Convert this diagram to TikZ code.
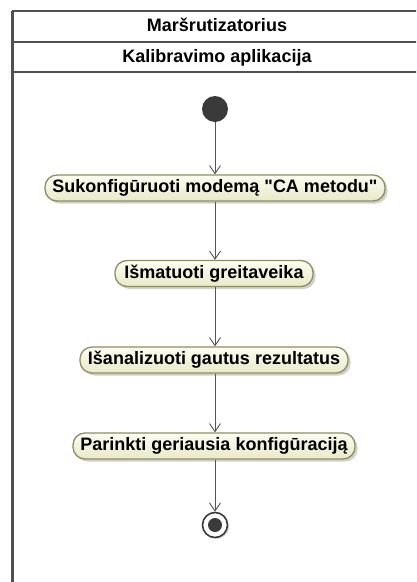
\documentclass[tikz,border=0pt]{standalone}
\usepackage{fontspec}
\setmainfont{Liberation Sans}[Ligatures=TeXOff]
\usetikzlibrary{arrows.meta,shadows}
\definecolor{frameline}{HTML}{505050}
\definecolor{flowline}{HTML}{555555}
\definecolor{actborder}{HTML}{8E8E62}
\definecolor{actlight}{HTML}{FDFDF2}
\definecolor{actdark}{HTML}{E9E9C9}
\definecolor{nodefill}{HTML}{3A3A3A}
\tikzset{
  labelfont/.style={font=\bfseries\fontsize{18}{21}\selectfont},
  lanetitle/.style={labelfont, inner sep=0pt, anchor=base},
  action/.style={labelfont, draw=actborder, line width=1.3pt,
    rounded corners=12pt, top color=actlight, bottom color=actdark,
    minimum height=26pt, inner xsep=0pt, inner ysep=0pt,
    text height=13pt, text depth=4pt,
    drop shadow={shadow xshift=2.5pt, shadow yshift=-2.5pt,
      fill=black!30, opacity=0.6}},
  startnode/.style={circle, fill=nodefill, minimum size=26pt, inner sep=0pt},
  endnode/.style={circle, draw=nodefill, line width=1.6pt, fill=white,
    minimum size=25pt, inner sep=0pt,
    drop shadow={shadow xshift=1.5pt, shadow yshift=-1.5pt,
      fill=black!25, opacity=0.6}},
  enddot/.style={circle, fill=nodefill, minimum size=14pt, inner sep=0pt},
  flow/.style={draw=flowline, line width=0.9pt,
    -{Straight Barb[length=8pt, width=11pt, line width=0.9pt]}},
  partition/.style={draw=frameline, line width=2pt}
}
\begin{document}
\begin{tikzpicture}[x=1pt, y=-1pt]
\useasboundingbox (0,0) rectangle (416,582);
\fill[white] (0,0) rectangle (416,582);
\begin{scope}
\clip (0,0) rectangle (416,582);
% swimlane frame, extending past the right and bottom edges
\coordinate (ftl) at (12,11);
\coordinate (ftr) at (430,11);
\coordinate (fbl) at (12,590);
\coordinate (hl1) at (12,42);
\coordinate (hr1) at (430,42);
\coordinate (hl2) at (12,72);
\coordinate (hr2) at (430,72);
\draw[partition] (ftl) -- (ftr);
\draw[partition] (hl1) -- (hr1);
\draw[partition, line width=2.4pt] (hl2) -- (hr2);
\draw[partition, line width=3pt] (ftl) -- (fbl);
\end{scope}

% lane titles
\node[lanetitle] (lane) at (217,31) {Maršrutizatorius};
\node[lanetitle] (part) at (217,62) {Kalibravimo aplikacija};

% activity flow
\node[startnode] (start) at (215,109) {};
\node[action, minimum width=340pt] (a1) at (215,188) {Sukonfigūruoti modemą "CA metodu"};
\node[action, minimum width=198pt] (a2) at (214,273.5) {Išmatuoti greitaveika};
\node[action, minimum width=268pt] (a3) at (214,360) {Išanalizuoti gautus rezultatus};
\node[action, minimum width=282pt] (a4) at (214,446) {Parinkti geriausia konfigūraciją};
\node[endnode] (stop) at (215,525) {};
\node[enddot] (stopdot) at (stop.center) {};

\draw[flow] (start) -- (start |- a1.north);
\draw[flow] (a1.south -| start) -- (start |- a2.north);
\draw[flow] (a2.south -| start) -- (start |- a3.north);
\draw[flow] (a3.south -| start) -- (start |- a4.north);
\draw[flow] (a4.south -| start) -- (stop.north);
\end{tikzpicture}
\end{document}
